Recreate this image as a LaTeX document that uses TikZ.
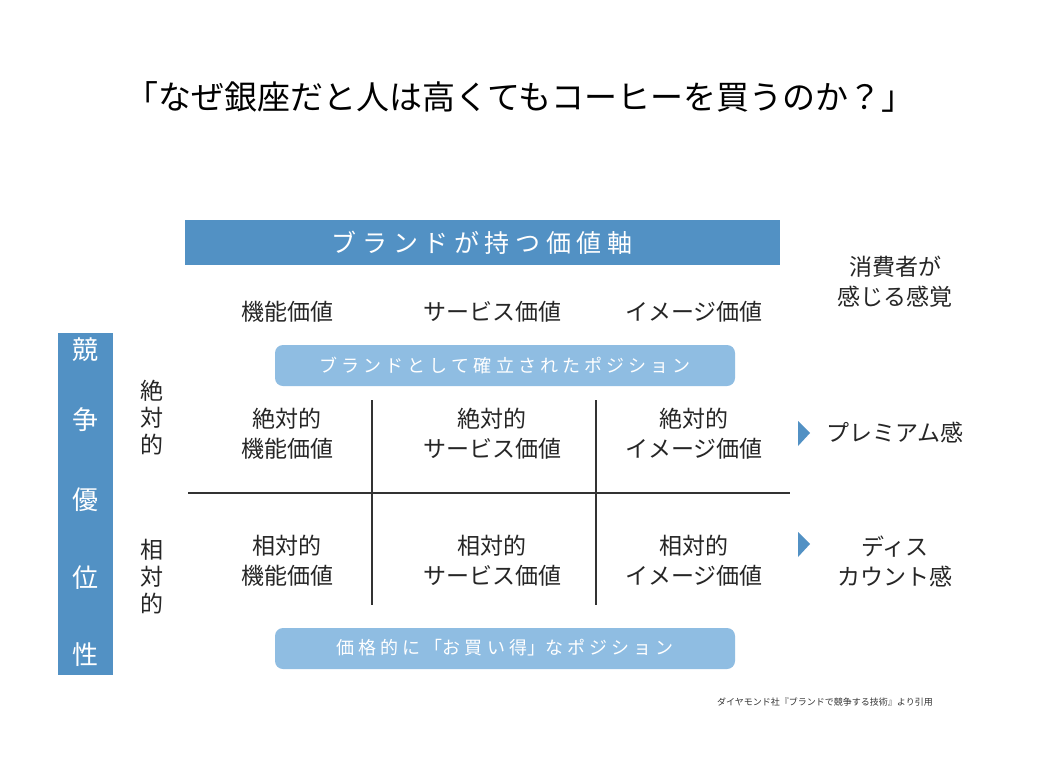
\documentclass[tikz,border=0pt]{standalone}
\usepackage{fontspec}
\setmainfont{Noto Sans CJK JP}
\begin{document}
\begin{tikzpicture}[x=1pt,y=-1pt,
  dark/.style={fill=barblue,draw=none,inner sep=0},
  lite/.style={fill=liteblue,draw=none,rounded corners=8pt},
  cell/.style={align=center,font=\fontsize{23}{30}\selectfont,text=black!85},
  wtext/.style={text=white},
  grid/.style={line width=2pt,draw=black!80},
  tri/.style={fill=barblue,draw=none}]
\definecolor{barblue}{HTML}{5291C4}
\definecolor{liteblue}{HTML}{8FBDE2}
\useasboundingbox (0,0) rectangle (1040,780);
\fill[white] (0,0) rectangle (1040,780);
\node (title) at (520,97) {\fontsize{33}{36}\selectfont 「なぜ銀座だと人は高くてもコーヒーを買うのか？」};
\fill[barblue] (185,220) rectangle (780,265);
\node[wtext] (axis) at (482,243) {\fontsize{25}{30}\selectfont ブ ラ ン ド が 持 つ 価 値 軸};
\node[cell] (h1) at (287,312) {機能価値};
\node[cell] (h2) at (492,312) {サービス価値};
\node[cell] (h3) at (694,312) {イメージ価値};
\node[cell] (cons) at (895,282) {消費者が\\感じる感覚};
\fill[liteblue,rounded corners=8pt] (275,345) rectangle (735,386);
\node[wtext] (pos1) at (505,365) {\fontsize{18}{20}\selectfont ブ ラ ン ド と し て 確 立 さ れ た ポ ジ シ ョ ン};
\fill[liteblue,rounded corners=8pt] (275,628) rectangle (735,669);
\node[wtext] (pos2) at (505,648) {\fontsize{18}{20}\selectfont 価 格 的 に 「お 買 い 得」な ポ ジ シ ョ ン};
\fill[barblue] (58,333) rectangle (113,675);
\foreach \c/\y in {競/350,争/420,優/500,位/578,性/655}
  \node[wtext] at (85,\y) {\fontsize{26}{30}\selectfont \c};
\node[cell,font=\fontsize{23}{27}\selectfont] (abs) at (152,418) {絶\\対\\的};
\node[cell,font=\fontsize{23}{27}\selectfont] (rel) at (152,577) {相\\対\\的};
\coordinate (hl) at (188,493); \coordinate (hr) at (790,493);
\draw[grid] (hl) -- (hr);
\coordinate (v1t) at (372,400); \coordinate (v1b) at (372,605);
\coordinate (v2t) at (596,400); \coordinate (v2b) at (596,605);
\draw[grid] (v1t) -- (v1b);
\draw[grid] (v2t) -- (v2b);
\node[cell] (c11) at (287,434) {絶対的\\機能価値};
\node[cell] (c12) at (492,434) {絶対的\\サービス価値};
\node[cell] (c13) at (694,434) {絶対的\\イメージ価値};
\node[cell] (c21) at (287,561) {相対的\\機能価値};
\node[cell] (c22) at (492,561) {相対的\\サービス価値};
\node[cell] (c23) at (694,561) {相対的\\イメージ価値};
\fill[barblue] (798,421) -- (810,433) -- (798,446) -- cycle;
\fill[barblue] (798,532) -- (810,544) -- (798,557) -- cycle;
\node[cell] (prem) at (895,433) {プレミアム感};
\node[cell] (disc) at (895,561) {ディス\\カウント感};
\node[text=black!80] (src) at (825,702) {\fontsize{9}{10}\selectfont ダイヤモンド社『ブランドで競争する技術』より引用};
\end{tikzpicture}
\end{document}
